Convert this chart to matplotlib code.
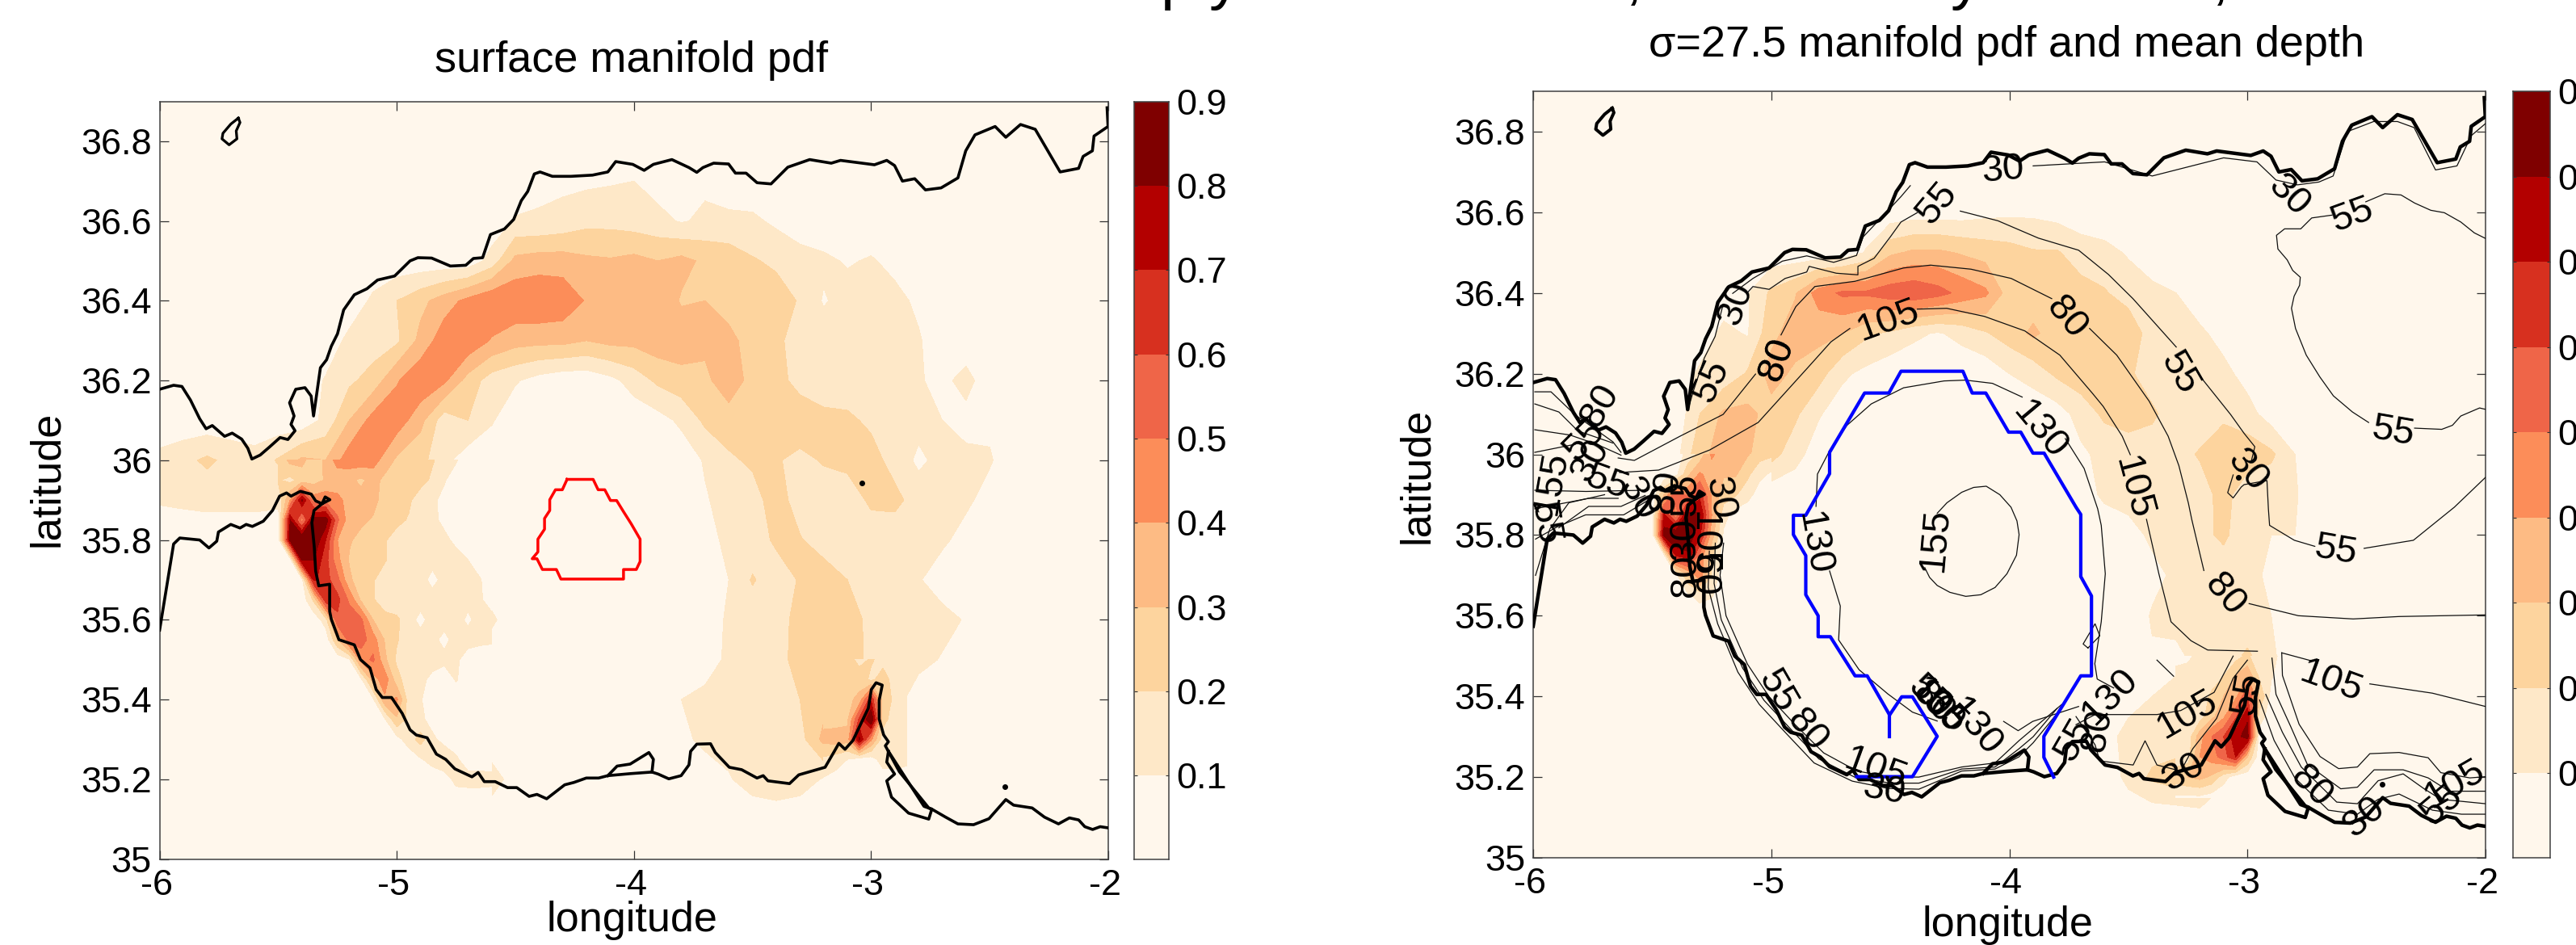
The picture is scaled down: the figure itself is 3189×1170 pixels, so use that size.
import numpy as np
import matplotlib
matplotlib.use("Agg")
import matplotlib.pyplot as plt
from matplotlib.colors import ListedColormap, BoundaryNorm
from matplotlib.transforms import ScaledTranslation

plt.rcParams['font.family'] = ['Liberation Sans', 'DejaVu Sans']

# ---------- grids ----------
base_lon = [-6.0,-5.9,-5.8,-5.7,-5.6,-5.5,-5.4,-5.3,-5.2,-5.1,-5.0,-4.9,-4.8,-4.7,-4.6,-4.5,-4.4,-4.3,-4.2,-4.1,
            -4.0,-3.9,-3.8,-3.7,-3.6,-3.5,-3.4,-3.3,-3.2,-3.1,-3.0,-2.9,-2.8,-2.7,-2.6,-2.5,-2.4,-2.3,-2.2,-2.1,-2.0]
base_lat = [36.9,36.8,36.7,36.6,36.5,36.4,36.3,36.2,36.1,36.0,35.9,35.8,35.7,35.6,35.5,35.4,35.3,35.2,35.1,35.0]

# surface manifold pdf, hundredths, rows north to south
surface_pdf = [
[3,3,3,3,3,3,3,3,3,3, 3,3,3,3,3,3,3,3,3,3, 3,3,3,3,3,3,3,3,3,3, 3,3,3,3,3,3,3,3,3,3, 3],
[3,3,3,3,3,3,3,3,3,3, 3,3,3,3,3,3,3,3,3,3, 3,3,3,3,3,3,3,3,3,3, 3,3,3,3,3,3,3,3,3,3, 3],
[3,3,3,3,3,3,3,3,3,3, 3,3,3,3,3,3,8,8,8,9, 10,6,7,8,5,3,3,3,3,3, 3,3,3,3,3,3,3,3,3,3, 3],
[3,3,3,3,3,3,3,3,3,3, 3,3,3,3,3,11,11,13,17,17, 15,13,9,12,12,12,8,3,3,3, 3,3,3,3,3,3,3,3,3,3, 3],
[3,3,3,3,3,3,3,3,3,3, 3,3,3,3,14,33,35,35,32,31, 33,30,33,28,26,21,18,15,12,9, 11,7,3,3,3,3,3,3,3,3, 3],
[3,3,3,3,3,3,3,3,3,12, 20,27,35,43,49,48,49,47,39,37, 37,37,29,30,27,26,25,19,9,14, 15,13,8,3,3,3,3,3,3,3, 3],
[3,3,3,3,3,3,3,3,13,15, 18,33,46,48,39,34,33,33,30,33, 33,36,36,32,32,27,22,16,15,15, 14,12,11,4,3,3,3,3,3,3, 3],
[3,3,3,3,3,3,3,11,18,24, 39,48,42,26,15,11,6,3,3,7, 14,22,26,28,35,27,24,16,18,14, 14,14,11,7,14,3,3,3,3,3, 3],
[3,3,3,3,3,3,3,13,30,44, 46,33,14,20,11,3,3,3,3,3, 4,6,12,22,26,27,30,27,21,22, 18,15,13,10,6,8,3,3,3,3, 3],
[13,17,22,17,14,21,32,30,46,44, 28,23,13,4,3,3,3,3,3,3, 3,3,4,11,18,22,21,17,21,23, 24,16,8,13,13,11,4,3,3,3, 3],
[11,12,13,13,13,12,80,47,35,34, 24,14,5,3,3,3,3,3,3,3, 3,3,3,9,14,15,26,14,14,14, 22,23,15,14,12,6,3,3,3,3, 3],
[3,3,3,3,3,3,88,62,32,27, 16,14,11,3,3,3,3,3,3,3, 3,3,3,4,14,14,22,21,14,14, 14,13,13,12,6,3,3,3,3,3, 3],
[3,3,3,3,3,3,3,60,28,19, 14,13,12,13,3,3,3,3,3,3, 3,3,3,3,10,21,14,21,27,20, 13,13,11,4,3,3,3,3,3,3, 3],
[3,3,3,3,3,3,3,3,50,30, 20,14,14,14,12,3,3,3,3,3, 3,3,3,3,12,14,15,24,28,27, 16,13,13,14,9,3,3,3,3,3, 3],
[3,3,3,3,3,3,3,3,3,50, 18,13,13,12,3,3,3,3,3,3, 3,3,3,3,13,13,18,22,27,24, 18,13,14,9,3,3,3,3,3,3, 3],
[3,3,3,3,3,3,3,3,3,3, 42,3,3,3,3,3,3,3,3,3, 3,3,10,14,14,15,16,20,26,28, 35,15,3,3,3,3,3,3,3,3, 3],
[3,3,3,3,3,3,3,3,3,3, 6,24,5,3,3,3,3,3,3,3, 3,3,7,13,14,14,14,16,33,37, 50,12,7,3,3,3,3,3,3,3, 3],
[3,3,3,3,3,3,3,3,3,3, 3,3,3,15,15,5,3,3,3,3, 3,3,3,3,9,15,18,15,9,6, 5,4,3,3,3,3,3,3,3,3, 3],
[3,3,3,3,3,3,3,3,3,3, 3,3,3,3,3,3,3,3,3,3, 3,3,3,3,3,3,3,3,3,3, 3,3,3,3,3,3,3,3,3,3, 3],
[3,3,3,3,3,3,3,3,3,3, 3,3,3,3,3,3,3,3,3,3, 3,3,3,3,3,3,3,3,3,3, 3,3,3,3,3,3,3,3,3,3, 3],
]

# sigma=27.5 manifold pdf, hundredths, rows north to south
sigma_pdf = [
[3,3,3,3,3,3,3,3,3,3, 3,3,3,3,3,3,3,3,3,3, 3,3,3,3,3,3,3,3,3,3, 3,3,3,3,3,3,3,3,3,3, 3],
[3,3,3,3,3,3,3,3,3,3, 3,3,3,3,3,3,3,3,3,3, 3,3,3,3,3,3,3,3,3,3, 3,3,3,3,3,3,3,3,3,3, 3],
[3,3,3,3,3,3,3,3,3,3, 3,3,3,3,3,3,3,3,3,3, 3,3,3,3,3,3,3,3,3,3, 3,3,3,3,3,3,3,3,3,3, 3],
[3,3,3,3,3,3,3,3,3,3, 3,3,3,3,3,3,5,5,5,7, 8,8,6,4,3,3,3,3,3,3, 3,3,3,3,3,3,3,3,3,3, 3],
[3,3,3,3,3,3,3,3,3,3, 3,3,3,3,11,28,32,32,29,26, 24,21,21,15,13,9,3,3,3,3, 3,3,3,3,3,3,3,3,3,3, 3],
[3,3,3,3,3,3,3,3,3,9, 22,29,45,52,52,56,58,54,47,42, 25,24,25,24,21,15,13,10,3,3, 3,3,3,3,3,3,3,3,3,3, 3],
[3,3,3,3,3,3,3,3,13,9, 27,35,33,30,22,18,12,9,13,19, 25,32,25,27,27,28,14,14,12,6, 3,3,3,3,3,3,3,3,3,3, 3],
[3,3,3,3,3,3,3,12,13,21, 34,28,24,12,7,3,3,3,3,3, 10,14,22,26,29,22,14,14,14,13, 6,3,3,3,3,3,3,3,3,3, 3],
[3,3,3,3,3,3,3,20,32,33, 26,22,11,4,3,3,3,3,3,3, 3,3,5,14,22,25,22,14,14,18, 14,5,3,3,3,3,3,3,3,3, 3],
[3,3,3,3,3,3,6,28,33,31, 24,14,4,3,3,3,3,3,3,3, 3,3,3,8,13,14,14,16,21,26, 26,22,10,3,3,3,3,3,3,3, 3],
[3,3,3,3,3,3,60,50,25,14, 3,3,3,3,3,3,3,3,3,3, 3,3,3,5,12,14,14,14,15,24, 13,13,11,3,3,3,3,3,3,3, 3],
[3,3,3,3,3,3,92,72,8,3, 3,3,3,3,3,3,3,3,3,3, 3,3,3,3,3,6,12,14,17,22, 13,10,10,3,3,3,3,3,3,3, 3],
[3,3,3,3,3,3,3,47,4,3, 3,3,3,3,3,3,3,3,3,3, 3,3,3,3,3,3,7,12,14,14, 13,8,3,3,3,3,3,3,3,3, 3],
[3,3,3,3,3,3,3,3,3,3, 3,3,3,3,3,3,3,3,3,3, 3,3,3,3,3,3,11,13,13,13, 12,10,3,3,3,3,3,3,3,3, 3],
[3,3,3,3,3,3,3,3,3,3, 3,3,3,3,3,3,3,3,3,3, 3,3,3,3,3,3,9,8,13,14, 22,12,3,3,3,3,3,3,3,3, 3],
[3,3,3,3,3,3,3,3,3,3, 3,3,3,3,3,3,3,3,3,3, 3,3,3,3,3,3,10,12,14,20, 55,3,3,3,3,3,3,3,3,3, 3],
[3,3,3,3,3,3,3,3,3,3, 3,3,3,3,3,3,3,3,3,3, 3,3,3,3,3,16,14,13,36,62, 72,3,3,3,3,3,3,3,3,3, 3],
[3,3,3,3,3,3,3,3,3,3, 3,3,3,3,3,3,3,3,3,3, 3,3,3,3,3,13,22,26,33,12, 3,3,3,3,3,3,3,3,3,3, 3],
[3,3,3,3,3,3,3,3,3,3, 3,3,3,3,3,3,3,3,3,3, 3,3,3,3,3,3,3,3,3,3, 3,3,3,3,3,3,3,3,3,3, 3],
[3,3,3,3,3,3,3,3,3,3, 3,3,3,3,3,3,3,3,3,3, 3,3,3,3,3,3,3,3,3,3, 3,3,3,3,3,3,3,3,3,3, 3],
]

# finer local grids where the field is steep
surf_west_lon = [-5.5,-5.45,-5.4,-5.35,-5.3,-5.25,-5.2,-5.15,-5.1,-5.05,-5.0,-4.95,-4.9,-4.85,-4.8,-4.75,-4.7,-4.65,-4.6]
surf_west_lat = [36.0,35.95,35.9,35.85,35.8,35.75,35.7,35.65,35.6,35.55,35.5,35.45,35.4,35.35,35.3,35.25,35.2,35.15]
surf_west_pdf = [
[21,33,33,24,32,44,46,46,44,36,28,26,24,21,15,11,4,3,3],
[21,17,24,26,31,34,32,28,34,27,26,25,24,18,11,4,3,3,3],
[12,40,82,45,47,43,36,34,33,26,25,22,14,12,7,3,3,3,3],
[3,80,45,85,86,52,34,32,29,26,23,19,14,12,8,3,3,3,3],
[3,82,92,90,70,40,31,27,24,21,15,14,14,13,12,8,3,3,3],
[3,3,82,80,64,43,29,24,22,21,14,13,14,13,13,13,10,3,3],
[3,3,6,72,64,53,32,24,21,14,14,14,14,7,13,13,14,11,3],
[3,3,3,22,66,63,48,28,21,14,13,14,14,14,14,14,13,11,7],
[3,3,3,3,15,58,56,52,30,24,22,14,7,14,14,14,8,14,12],
[3,3,3,3,3,30,55,54,45,29,21,14,14,13,7,14,14,13,12],
[3,3,3,3,3,3,9,45,52,32,18,13,13,13,13,12,5,3,3],
[3,3,3,3,3,3,3,8,35,46,24,14,12,8,3,11,3,3,3],
[3,3,3,3,3,3,3,3,8,38,42,15,11,3,3,3,3,3,3],
[3,3,3,3,3,3,3,3,3,9,28,17,13,5,3,3,3,3,3],
[3,3,3,3,3,3,3,3,3,3,6,15,24,13,5,3,3,3,3],
[3,3,3,3,3,3,3,3,3,3,3,3,9,14,21,12,3,3,3],
[3,3,3,3,3,3,3,3,3,3,3,3,3,3,3,14,15,15,14],
[3,3,3,3,3,3,3,3,3,3,3,3,3,3,3,3,3,3,3],
]
surf_east_lon = [-3.2,-3.15,-3.1,-3.05,-3.0,-2.95,-2.9,-2.85]
surf_east_lat = [35.5,35.45,35.4,35.35,35.3,35.25,35.2]
surf_east_pdf = [
[26,25,24,17,21,17,13,13],
[24,24,24,25,18,24,16,13],
[26,26,27,33,68,25,18,11],
[27,26,28,62,92,24,14,12],
[33,35,34,82,42,14,13,13],
[18,15,10,5,5,15,14,13],
[9,6,5,4,4,4,6,4],
]
sig_west_lon = [-5.5,-5.45,-5.4,-5.35,-5.3,-5.25,-5.2,-5.15,-5.1,-5.05,-5.0]
sig_west_lat = [36.0,35.95,35.9,35.85,35.8,35.75,35.7,35.65,35.6]
sig_west_pdf = [
[3,3,5,13,23,42,33,32,31,24,22],
[3,3,7,28,42,34,31,31,22,13,8],
[3,30,58,47,66,38,25,21,14,5,3],
[3,72,42,85,82,40,14,5,3,3,3],
[3,85,92,88,72,35,8,3,3,3,3],
[3,8,72,78,48,22,5,3,3,3,3],
[3,3,7,28,47,18,4,3,3,3,3],
[3,3,3,8,14,11,3,3,3,3,3],
[3,3,3,3,3,3,3,3,3,3,3],
]
sig_east_lon = [-3.3,-3.25,-3.2,-3.15,-3.1,-3.05,-3.0,-2.95,-2.9,-2.85]
sig_east_lat = [35.5,35.45,35.4,35.35,35.3,35.25,35.2,35.15]
sig_east_pdf = [
[8,8,13,13,14,16,22,12,12,8],
[12,14,14,15,20,31,38,18,11,4],
[11,14,14,22,30,37,60,30,6,3],
[13,14,15,27,38,58,78,15,4,3],
[13,14,36,50,60,76,85,4,3,3],
[14,15,40,45,55,70,30,3,3,3],
[26,30,33,28,14,4,3,3,3,3],
[8,8,8,5,3,3,3,3,3,3],
]

pdf_levels = [0,10,20,30,40,50,60,70,80,90]
pdf_colors = ['#FFF7EC','#FEE8C8','#FDD49E','#FDBB84','#FC8D59','#EF6548','#D7301F','#B30000','#7F0000']
cbar_ticks = [0.1,0.2,0.3,0.4,0.5,0.6,0.7,0.8,0.9]

# ---------- coastline (lon, lat) ----------
coast_north = [(-6,36.178),(-5.941,36.188),(-5.906,36.185),(-5.870,36.151),(-5.831,36.104),(-5.804,36.079),(-5.778,36.087),
 (-5.726,36.060),(-5.694,36.068),(-5.654,36.053),(-5.628,36.030),(-5.611,36.003),(-5.576,36.013),(-5.537,36.033),(-5.492,36.057),
 (-5.459,36.052),(-5.429,36.074),(-5.446,36.090),(-5.433,36.111),(-5.452,36.144),(-5.426,36.178),(-5.387,36.182),(-5.361,36.161),
 (-5.351,36.111),(-5.342,36.148),(-5.322,36.232),(-5.296,36.252),(-5.276,36.286),(-5.250,36.317),(-5.224,36.377),(-5.179,36.415),
 (-5.126,36.430),(-5.081,36.452),(-5.009,36.462),(-4.944,36.500),(-4.911,36.508),(-4.853,36.507),(-4.774,36.487),(-4.709,36.489),
 (-4.677,36.506),(-4.638,36.508),(-4.605,36.566),(-4.546,36.580),(-4.507,36.604),(-4.475,36.651),(-4.448,36.674),(-4.420,36.718),
 (-4.396,36.723),(-4.344,36.712),(-4.266,36.712),(-4.175,36.715),(-4.110,36.723),(-4.077,36.749),(-4.005,36.742),(-3.957,36.727),
 (-3.918,36.742),(-3.840,36.754),(-3.768,36.734),(-3.735,36.722),(-3.709,36.734),(-3.664,36.745),(-3.601,36.743),(-3.572,36.720),
 (-3.527,36.720),(-3.481,36.696),(-3.422,36.693),(-3.351,36.735),(-3.259,36.754),(-3.168,36.745),(-3.129,36.752),(-2.986,36.741),
 (-2.934,36.752),(-2.901,36.739),(-2.868,36.700),(-2.816,36.706),(-2.771,36.678),(-2.705,36.683),(-2.634,36.708),(-2.601,36.776),
 (-2.562,36.816),(-2.477,36.837),(-2.432,36.810),(-2.370,36.842),(-2.308,36.830),(-2.203,36.723),(-2.125,36.732),(-2.106,36.762),
 (-2.067,36.776),(-2.060,36.813),(-2.001,36.837),(-2.005,36.884)]
coast_south = [(-6,35.574),(-5.941,35.790),(-5.915,35.805),(-5.831,35.800),(-5.792,35.780),(-5.759,35.797),(-5.752,35.820),
 (-5.700,35.839),(-5.661,35.830),(-5.635,35.839),(-5.609,35.834),(-5.563,35.847),(-5.524,35.874),(-5.494,35.910),(-5.465,35.918),
 (-5.446,35.910),(-5.407,35.922),(-5.361,35.915),(-5.342,35.898),(-5.315,35.891),(-5.282,35.901),(-5.302,35.908),(-5.315,35.891),
 (-5.349,35.874),(-5.358,35.844),(-5.348,35.783),(-5.342,35.722),(-5.329,35.685),(-5.283,35.689),(-5.283,35.621),(-5.276,35.601),
 (-5.244,35.550),(-5.179,35.537),(-5.153,35.500),(-5.113,35.479),(-5.087,35.425),(-5.061,35.405),(-5.022,35.405),(-4.977,35.365),
 (-4.944,35.324),(-4.918,35.311),(-4.872,35.304),(-4.833,35.263),(-4.794,35.250),(-4.755,35.226),(-4.683,35.206),(-4.657,35.217),
 (-4.631,35.194),(-4.585,35.194),(-4.533,35.179),(-4.494,35.179),(-4.442,35.157),(-4.409,35.162),(-4.368,35.151),(-4.292,35.186),
 (-4.253,35.192),(-4.201,35.203),(-4.149,35.203),(-4.110,35.209),(-4.016,35.214),(-3.924,35.218),(-3.898,35.213),(-3.853,35.201),
 (-3.801,35.209),(-3.768,35.236),(-3.761,35.270),(-3.735,35.288),(-3.677,35.289),(-3.657,35.267),(-3.598,35.230),(-3.546,35.224),
 (-3.481,35.203),(-3.455,35.209),(-3.435,35.196),(-3.344,35.189),(-3.305,35.211),(-3.194,35.230),(-3.155,35.270),(-3.136,35.290),
 (-3.110,35.275),(-3.077,35.297),(-3.012,35.378),(-2.999,35.425),(-2.979,35.442),(-2.953,35.436),(-2.966,35.398),(-2.966,35.351),
 (-2.947,35.311),(-2.927,35.294),(-2.940,35.284),(-2.881,35.219),(-2.757,35.128),(-2.744,35.125),(-2.686,35.105),(-2.634,35.088),
 (-2.568,35.086),(-2.503,35.101),(-2.432,35.149),(-2.399,35.135),(-2.321,35.128),(-2.269,35.105),(-2.210,35.088),(-2.164,35.103),
 (-2.125,35.098),(-2.099,35.081),(-2.066,35.074),(-2.034,35.081),(-2.0,35.078)]
coast_bay = [(-4.110,35.209),(-4.071,35.233),(-4.016,35.238),(-3.937,35.267),(-3.918,35.250),(-3.924,35.218)]
coast_lagoon = [(-2.927,35.270),(-2.934,35.243),(-2.901,35.213),(-2.934,35.196),(-2.914,35.155),(-2.842,35.115),(-2.757,35.100),
 (-2.744,35.125),(-2.777,35.132),(-2.927,35.270)]
island_lon = [-5.668,-5.661,-5.677,-5.674,-5.707,-5.737,-5.733,-5.700,-5.668]
island_lat = [36.858,36.847,36.826,36.806,36.791,36.806,36.820,36.843,36.858]
dots_lon = [-3.038,-2.435]
dots_lat = [35.942,35.182]

red_box = [(-4.282,35.952),(-4.172,35.952),(-4.151,35.926),(-4.123,35.926),(-4.099,35.899),(-4.073,35.899),(-4.044,35.871),
 (-4.012,35.841),(-3.974,35.802),(-3.974,35.746),(-3.990,35.726),(-4.044,35.726),(-4.044,35.702),(-4.308,35.702),(-4.327,35.726),
 (-4.386,35.726),(-4.409,35.753),(-4.429,35.753),(-4.405,35.770),(-4.405,35.802),(-4.377,35.827),(-4.377,35.854),(-4.355,35.874),
 (-4.355,35.901),(-4.331,35.926),(-4.302,35.926),(-4.282,35.952)]
blue_box = [(-3.814,35.200),(-3.855,35.249),(-3.855,35.301),(-3.700,35.451),(-3.655,35.451),(-3.655,35.649),(-3.700,35.697),
 (-3.700,35.851),(-3.720,35.869),(-3.854,36.003),(-3.901,36.003),(-3.952,36.055),(-4.003,36.055),(-4.099,36.152),(-4.156,36.152),
 (-4.195,36.206),(-4.455,36.206),(-4.506,36.152),(-4.608,36.152),(-4.755,36.005),(-4.755,35.952),(-4.855,35.849),(-4.907,35.849),
 (-4.907,35.801),(-4.855,35.749),(-4.855,35.652),(-4.803,35.600),(-4.803,35.548),(-4.752,35.548),(-4.648,35.451),(-4.597,35.451),
 (-4.503,35.354),(-4.452,35.399),(-4.407,35.399),(-4.303,35.301),(-4.407,35.201),(-4.641,35.201)]
blue_stub = [(-4.503,35.354),(-4.503,35.301)]

# ---------- mean depth contours (lon, lat) ----------
depth_lines = [
 [(-4.303,35.854),(-4.262,35.880),(-4.200,35.906),(-4.150,35.918),(-4.097,35.921),(-4.040,35.900),(-3.993,35.869),(-3.968,35.835),(-3.959,35.801),(-3.970,35.750),(-4.010,35.704),(-4.060,35.670),(-4.120,35.652),(-4.183,35.648),(-4.250,35.658),(-4.303,35.675),(-4.335,35.695),(-4.355,35.719)],
 [(-3.765,36.039),(-3.686,35.965),(-3.629,35.865),(-3.614,35.824),(-3.597,35.704),(-3.614,35.585),(-3.641,35.481),(-3.631,35.443),(-3.562,35.421)],
 [(-3.946,36.142),(-4.071,36.176),(-4.184,36.184),(-4.274,36.182),(-4.444,36.165),(-4.580,36.125),(-4.682,36.072),(-4.755,36.009),(-4.806,35.951),(-4.812,35.871)],
 [(-4.755,35.711),(-4.710,35.624),(-4.717,35.540),(-4.631,35.466),(-4.510,35.406),(-4.407,35.361),(-4.303,35.339)],
 [(-4.024,35.338),(-3.963,35.315),(-3.902,35.338),(-3.709,35.375)],
 [(-5.637,35.955),(-5.473,35.961),(-5.258,36.011),(-5.055,36.079),(-4.851,36.212),(-4.749,36.279),(-4.670,36.312)],
 [(-4.387,36.360),(-4.263,36.362),(-4.105,36.342),(-3.935,36.306),(-3.788,36.246),(-3.652,36.152),(-3.606,36.119),(-3.526,36.045),(-3.492,35.999)],
 [(-3.424,35.839),(-3.372,35.704),(-3.321,35.585),(-3.237,35.538),(-3.167,35.515),(-2.958,35.512)],
 [(-2.856,35.508),(-2.730,35.488)],
 [(-2.486,35.431),(-2.223,35.408),(-2.0,35.375)],
 [(-5.643,35.991),(-5.575,35.985),(-5.383,36.045),(-5.202,36.099),(-5.066,36.199)],
 [(-4.959,36.296),(-4.897,36.366),(-4.817,36.416),(-4.648,36.429),(-4.444,36.462),(-4.331,36.469),(-4.161,36.459),(-3.992,36.436),(-3.822,36.386)],
 [(-3.663,36.312),(-3.549,36.246),(-3.413,36.132),(-3.333,36.045),(-3.288,35.972),(-3.248,35.879),(-3.234,35.839),(-3.183,35.712)],
 [(-2.993,35.630),(-2.786,35.600),(-2.556,35.592),(-2.363,35.598),(-2.0,35.602)],
 [(-4.206,36.603),(-4.048,36.579),(-3.878,36.536),(-3.709,36.506),(-3.584,36.446),(-3.481,36.386),(-3.299,36.266)],
 [(-3.197,36.192),(-3.071,36.099),(-3.014,36.052),(-2.969,36.019),(-2.985,35.980)],
 [(-3.060,35.949),(-3.083,35.905),(-3.060,35.892),(-3.026,35.919),(-3.014,35.925),(-2.918,35.935),(-2.912,35.865),(-2.907,35.824),(-2.803,35.787),(-2.717,35.772)],
 [(-2.510,35.767),(-2.303,35.787),(-2.131,35.869),(-2.0,35.943)],
 [(-2.503,36.626),(-2.423,36.646),(-2.355,36.643),(-2.298,36.623),(-2.230,36.605),(-2.173,36.599),(-2.104,36.576),(-2.047,36.549),(-1.996,36.534)],
 [(-2.645,36.593),(-2.730,36.586),(-2.776,36.559),(-2.844,36.559),(-2.878,36.543),(-2.872,36.509),(-2.833,36.482),(-2.810,36.456),(-2.778,36.439),(-2.781,36.419),(-2.804,36.392),(-2.815,36.362),(-2.798,36.312),(-2.753,36.246),(-2.696,36.192),(-2.639,36.145),(-2.559,36.105),(-2.491,36.079)],
 [(-2.298,36.065),(-2.184,36.062),(-2.139,36.072),(-2.104,36.095),(-2.025,36.115),(-1.996,36.111)],
 # thin lines hugging the coasts
 [(-4.416,36.666),(-4.455,36.639),(-4.512,36.603),(-4.614,36.539),(-4.642,36.493),(-4.738,36.476),(-4.851,36.492),(-4.953,36.479),(-5.077,36.436),(-5.162,36.399)],
 [(-5.202,36.372),(-5.236,36.292),(-5.281,36.239),(-5.326,36.159),(-5.349,36.112)],
 [(-4.387,36.599),(-4.455,36.576),(-4.500,36.539),(-4.568,36.486),(-4.636,36.466),(-4.636,36.445),(-4.727,36.449),(-4.841,36.466),(-4.851,36.452),(-4.942,36.436),(-5.009,36.409),(-5.077,36.416),(-5.103,36.399)],
 [(-3.900,36.715),(-3.600,36.725),(-3.400,36.690),(-3.100,36.735),(-2.960,36.725),(-2.880,36.680),(-2.790,36.668),(-2.700,36.675),(-2.640,36.690),(-2.580,36.800),(-2.470,36.825),(-2.370,36.825),(-2.300,36.810),(-2.210,36.705),(-2.120,36.715),(-2.060,36.790),(-2.000,36.820)],
 [(-2.856,35.508),(-2.853,35.452),(-2.783,35.331),(-2.695,35.251),(-2.617,35.221),(-2.538,35.225),(-2.486,35.258),(-2.363,35.261),(-2.241,35.248),(-2.188,35.211),(-2.066,35.198),(-2.0,35.201)],
 [(-2.897,35.495),(-2.880,35.405),(-2.818,35.325),(-2.748,35.231),(-2.608,35.171),(-2.538,35.175),(-2.468,35.218),(-2.346,35.218),(-2.241,35.198),(-2.153,35.165),(-2.0,35.165)],
 [(-2.923,35.405),(-2.853,35.311),(-2.774,35.225),(-2.625,35.138),(-2.538,35.134),(-2.451,35.191),(-2.346,35.208),(-2.258,35.171),(-2.188,35.145),(-2.0,35.134)],
 [(-2.949,35.391),(-2.888,35.291),(-2.801,35.198),(-2.660,35.118),(-2.538,35.108),(-2.451,35.145),(-2.363,35.158),(-2.223,35.118),(-2.101,35.108),(-2.0,35.108)],
 # south shore, close to the coast
 [(-5.200,35.780),(-5.215,35.700),(-5.190,35.600),(-5.100,35.480),(-5.010,35.400),(-4.900,35.330),(-4.780,35.260),(-4.640,35.215),(-4.500,35.200),(-4.380,35.200),(-4.200,35.225),(-4.060,35.235),(-3.960,35.290),(-3.900,35.320),(-3.780,35.380)],
 [(-5.235,35.780),(-5.240,35.680),(-5.210,35.590),(-5.120,35.470),(-5.030,35.390),(-4.920,35.320),(-4.800,35.245),(-4.650,35.200),(-4.500,35.185),(-4.380,35.185),(-4.200,35.220),(-4.060,35.225),(-3.960,35.270),(-3.900,35.300),(-3.800,35.370)],
 [(-5.260,35.760),(-5.265,35.670),(-5.225,35.580),(-5.140,35.460),(-5.050,35.380),(-4.940,35.310),(-4.820,35.235),(-4.660,35.190),(-4.510,35.172),(-4.380,35.170),(-4.200,35.215),(-4.060,35.220),(-3.960,35.250),(-3.900,35.285),(-3.810,35.350)],
 [(-3.720,35.350),(-3.640,35.280),(-3.620,35.240),(-3.480,35.230),(-3.430,35.290),(-3.380,35.230),(-3.280,35.215),(-3.230,35.270),(-3.130,35.345),(-3.060,35.445),(-3.000,35.490)],
 [(-3.720,35.330),(-3.640,35.355),(-3.380,35.355),(-3.280,35.365),(-3.140,35.410),(-3.060,35.500)],
 # western tangle
 [(-5.993,36.155),(-5.925,36.155),(-5.824,36.098),(-5.665,36.031),(-5.631,36.005)],
 [(-5.993,36.125),(-5.892,36.105),(-5.812,36.058),(-5.665,36.028)],
 [(-5.993,36.061),(-5.846,36.048),(-5.733,36.025),(-5.631,35.998)],
 [(-5.993,36.005),(-5.824,36.025)],
 [(-5.993,35.911),(-5.778,35.908),(-5.530,35.911)],
 [(-5.892,35.818),(-5.767,35.871),(-5.631,35.871),(-5.530,35.898)],
 [(-5.993,35.865),(-5.767,35.891),(-5.643,35.891)],
 [(-5.99,35.790),(-5.90,35.820),(-5.78,35.850),(-5.62,35.850),(-5.52,35.885)],
 [(-5.99,35.700),(-5.93,35.815),(-5.85,35.880),(-5.70,35.900)],
 [(-3.380,35.490),(-3.310,35.450)],
]
small_ring_lon = [-3.67,-3.62,-3.64,-3.69,-3.67]
small_ring_lat = [35.52,35.55,35.58,35.53,35.52]

label_text = ['30','30','55','55','30','55','80','80','105','80','55','130','30','55','105','155','130','55','80','105',
 '130','130','105','80','55','30','55','55','80','105','30','80','105','55','30','80','30','105','60','55','30','80','155','55','30','55','80','55','30',
 '55','80','105','30']
label_lon = [-4.028,-2.828,-4.303,-2.562,-5.148,-5.252,-4.976,-4.976,-4.510,-3.762,-3.286,-3.872,-3.000,-2.390,-3.483,-4.310,-4.821,-2.631,-3.097,-2.648,
 -3.579,-4.148,-3.252,-3.631,-3.727,-3.269,-3.000,-4.976,-4.848,-4.562,-4.528,-2.734,-2.131,-2.183,-2.510,-5.441,-5.217,-5.286,-5.286,-5.360,-5.360,-5.360,-5.924,-5.786,-5.760,-5.950,-5.720,-5.690,-5.560,
 -4.340,-4.320,-4.300,-4.280]
label_lat = [36.704,36.642,36.622,36.593,36.373,36.182,36.234,36.234,36.331,36.339,36.201,36.060,35.961,36.055,35.916,35.787,35.779,35.761,35.652,35.436,
 35.399,35.324,35.354,35.316,35.291,35.212,35.406,35.413,35.316,35.219,35.167,35.175,35.182,35.130,35.100,35.906,35.891,35.779,35.700,35.900,35.790,35.700,35.928,36.033,35.985,35.830,36.120,35.930,35.890,
 35.400,35.385,35.375,35.360]
label_rot = [5,-45,50,20,70,65,70,70,20,-50,-60,-50,-50,-10,-75,85,-80,-10,-50,-20,
 45,-50,30,80,60,30,80,-60,-50,-20,-10,-45,30,40,40,80,-80,-90,-90,90,90,90,80,45,60,-80,60,-20,-60,
 -45,-45,-45,-45]

lon_ticks = [-6,-5,-4,-3,-2]
lat_ticks = [35,35.2,35.4,35.6,35.8,36,36.2,36.4,36.6,36.8]
lat_tick_labels = ['35','35.2','35.4','35.6','35.8','36','36.2','36.4','36.6','36.8']
lon_tick_labels = ['-6','-5','-4','-3','-2']

# ---------- figure ----------
W, H = 3189, 1170
FS = 32.5
FS_LABEL = 37.5
FS_TITLE = 39
FS_DEPTH = 34
fig = plt.figure(figsize=(W/100, H/100), dpi=100, facecolor='white')
def rect(l, r, t, b):
    return [l/W, 1-b/H, (r-l)/W, (b-t)/H]

cmap = ListedColormap(pdf_colors)

def field(ax, lons, lats, vals):
    ax.contourf(np.array(lons), np.array(lats), np.array(vals, float), levels=[-1]+pdf_levels[1:-1]+[200],
                colors=pdf_colors)

def xy(pts):
    a = np.array(pts)
    return a[:,0], a[:,1]

def panel(ax, grid, patches, coast_lw):
    ax.set_facecolor(pdf_colors[0])
    field(ax, base_lon, base_lat, grid)
    for lo, la, v in patches:
        field(ax, lo, la, v)
    for seg in (coast_north, coast_south, coast_bay, coast_lagoon):
        ax.plot(*xy(seg), color='k', lw=coast_lw, solid_joinstyle='round', zorder=5)
    ax.plot(island_lon, island_lat, color='k', lw=coast_lw*0.9, zorder=5)
    ax.plot(dots_lon, dots_lat, ls='none', marker='o', ms=4, color='k', zorder=5)
    ax.set_xlim(-6, -2); ax.set_ylim(35, 36.9)
    ax.set_xticks(lon_ticks); ax.set_xticklabels(lon_tick_labels, fontsize=FS)
    ax.set_yticks(lat_ticks); ax.set_yticklabels(lat_tick_labels, fontsize=FS)
    ax.tick_params(axis='both', direction='in', length=8, width=0.9, color='#303030', top=True, right=True)
    ax.tick_params(axis='x', pad=9)
    ax.tick_params(axis='y', pad=7)
    shift = ScaledTranslation(-4/100, 0, fig.dpi_scale_trans)
    for lab in ax.get_xticklabels():
        lab.set_transform(lab.get_transform() + shift)
    for s in ax.spines.values():
        s.set_linewidth(1.1); s.set_color('#404040')

def colorbar(cax):
    cvals = np.array([0.001,0.1,0.2,0.3,0.4,0.5,0.6,0.7,0.8,0.9])
    cax.pcolormesh([0,1], cvals*100, np.arange(9).reshape(-1,1), cmap=cmap, vmin=-0.5, vmax=8.5)
    cax.set_xticks([]); cax.set_ylim(0.1, 90)
    cax.yaxis.tick_right()
    cax.set_yticks([t*100 for t in cbar_ticks]); cax.set_yticklabels([f'{t:.1f}' for t in cbar_ticks], fontsize=FS)
    cax.tick_params(axis='y', direction='in', length=3, width=0.8, pad=7, color='#303030', left=True, right=True)
    for s in cax.spines.values():
        s.set_linewidth(1.1); s.set_color('#404040')

# left panel
ax1 = fig.add_axes(rect(197.6, 1372, 125.5, 1063.5))
panel(ax1, surface_pdf, [(surf_west_lon, surf_west_lat, surf_west_pdf), (surf_east_lon, surf_east_lat, surf_east_pdf)], 2.6)
ax1.plot(*xy(red_box), color='#FF0000', lw=2.5, zorder=6)
cax1 = fig.add_axes(rect(1404, 1447, 125.5, 1063.5))
colorbar(cax1)

# right panel
ax2 = fig.add_axes(rect(1898, 3077, 113, 1062))
panel(ax2, sigma_pdf, [(sig_west_lon, sig_west_lat, sig_west_pdf), (sig_east_lon, sig_east_lat, sig_east_pdf)], 3.2)
for seg in depth_lines:
    ax2.plot(*xy(seg), color='#101010', lw=0.9, zorder=4)
ax2.plot(small_ring_lon, small_ring_lat, color='#101010', lw=0.9, zorder=4)
ax2.plot(*xy(blue_box), color='#0000FF', lw=3.0, zorder=6)
ax2.plot(*xy(blue_stub), color='#0000FF', lw=3.0, zorder=6)
for t, lo, la, r in zip(label_text, label_lon, label_lat, label_rot):
    ax2.text(lo, la, t, fontsize=FS_DEPTH, rotation=r, rotation_mode='anchor', ha='center', va='center', color='k', zorder=7, clip_on=True)
cax2 = fig.add_axes(rect(3111, 3157, 113, 1062))
colorbar(cax2)

# axis text
def ftext(x, y, s, size, **kw):
    fig.text(x/W, 1-y/H, s, fontsize=size, ha='center', va='center', **kw)
ftext(781, 75, 'surface manifold pdf', FS_TITLE)
ftext(782, 1140, 'longitude', FS_LABEL)
ftext(59, 593, 'latitude', FS_LABEL, rotation=90)
ftext(2484, 56, 'σ=27.5 manifold pdf and mean depth', FS_TITLE)
ftext(2485, 1146, 'longitude', FS_LABEL)
ftext(1755, 589, 'latitude', FS_LABEL, rotation=90)

# descenders of the overall title, cut off by the top edge of the image
title_parts = ['p', 'y', ',', 'y', ',']
title_x = [1437, 1497, 2012, 2415, 2738]
for s, x in zip(title_parts, title_x):
    fig.text(x/W, 1+3/H, s, fontsize=56, ha='left', va='baseline', color='k')

fig.savefig('out.png', dpi=100, facecolor='white')
